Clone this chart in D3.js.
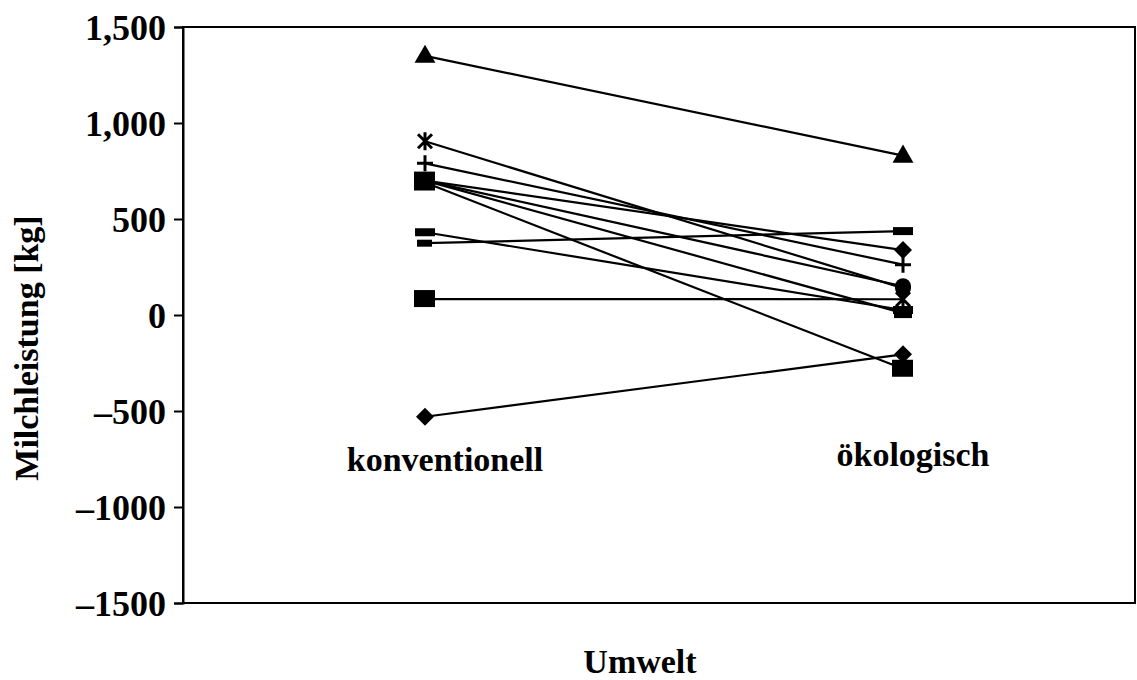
<!DOCTYPE html>
<html>
<head>
<meta charset="utf-8">
<script src="https://cdn.jsdelivr.net/npm/d3@7"></script>
<style>
  body { margin: 0; background: #fff; }
  text { font-family: "Liberation Serif", "Times New Roman", serif; font-weight: bold; fill: #000; }
</style>
</head>
<body>
<div id="chart"></div>
<script>
// Umwelt categories and the milk yield of each group in both environments
const categories = ["konventionell", "ökologisch"];
const shapesKonv = ["triangle", "asterisk", "plus", "circle", "diamond", "square", "square", "bar", "dash", "square", "diamond"];
const shapesOeko = ["triangle", "circle", "plus", "circle", "diamond", "square", "flat", "bar", "bar", "asterisk", "diamond"];
const konventionell = [1350, 905, 790, 700, 700, 690, 700, 431, 374, 83, -530];
const oekologisch   = [830, 140, 262, 150, 338, -280, 10, 26, 437, 82, -205];
const yTicks = [1500, 1000, 500, 0, -500, -1000, -1500];
const yTickLabels = ["1,500", "1,000", "500", "0", "\u2013500", "\u20131000", "\u20131500"];

const W = 1137, H = 680;
const margin = {top: 27, right: 2, bottom: 77, left: 183};
const width = W - margin.left - margin.right,
    height = H - margin.top - margin.bottom;

const svg = d3.select("#chart")
    .append("svg")
    .attr("width", W)
    .attr("height", H);

const g = svg.append("g")
    .attr("transform", `translate(${margin.left},${margin.top})`);

const x = d3.scalePoint()
    .domain(categories)
    .range([242, 720]);

const y = d3.scaleLinear()
    .domain([-1500, 1500])
    .range([height, 0]);

// frame
g.append("rect")
    .attr("width", width)
    .attr("height", height)
    .attr("fill", "none")
    .attr("stroke", "#000")
    .attr("stroke-width", 2);

const yAxis = g.append("g")
    .call(d3.axisLeft(y)
        .tickValues(yTicks)
        .tickFormat((d, i) => yTickLabels[i])
        .tickSize(9)
        .tickPadding(8));
yAxis.select(".domain").attr("stroke-width", 2);
yAxis.selectAll(".tick line").attr("stroke-width", 2);
yAxis.selectAll(".tick text")
    .attr("font-size", 36)
    .attr("font-family", "Liberation Serif, serif")
    .attr("font-weight", "bold")
    .attr("dy", "0.36em");

// paired lines
const pairs = konventionell.map((v, i) => ({
    a: v, b: oekologisch[i], sa: shapesKonv[i], sb: shapesOeko[i]
}));

g.selectAll(".pair")
    .data(pairs)
    .enter()
    .append("line")
    .attr("x1", x(categories[0]))
    .attr("y1", d => y(d.a))
    .attr("x2", x(categories[1]))
    .attr("y2", d => y(d.b))
    .attr("stroke", "#000")
    .attr("stroke-width", 2.2);

function drawMarker(sel, shape) {
    if (shape === "triangle") {
        sel.append("path").attr("d", d3.symbol(d3.symbolTriangle, 190)()).attr("transform", "translate(0,1)");
    } else if (shape === "square") {
        sel.append("rect").attr("x", -11).attr("y", -9).attr("width", 21).attr("height", 17);
    } else if (shape === "flat") {
        sel.append("rect").attr("x", -9).attr("y", -5).attr("width", 18).attr("height", 10);
    } else if (shape === "circle") {
        sel.append("circle").attr("r", 8);
    } else if (shape === "diamond") {
        sel.append("path").attr("d", "M0,-9L9,0L0,9L-9,0Z");
    } else if (shape === "bar") {
        sel.append("rect").attr("x", -10).attr("y", -4).attr("width", 20).attr("height", 8);
    } else if (shape === "dash") {
        sel.append("rect").attr("x", -8).attr("y", -3.5).attr("width", 15).attr("height", 7);
    } else if (shape === "plus") {
        sel.append("path").attr("d", "M-8,0H8M0,-8V8").attr("stroke", "#000").attr("stroke-width", 3).attr("fill", "none");
    } else if (shape === "asterisk") {
        sel.append("path").attr("d", "M-7,-7L7,7M7,-7L-7,7M0,-9V9").attr("stroke", "#000").attr("stroke-width", 3).attr("fill", "none");
    }
}

pairs.forEach(d => {
    drawMarker(g.append("g")
        .attr("transform", `translate(${x(categories[0])},${y(d.a)})`)
        .attr("fill", "#000"), d.sa);
    drawMarker(g.append("g")
        .attr("transform", `translate(${x(categories[1])},${y(d.b)})`)
        .attr("fill", "#000"), d.sb);
});

// category labels inside the plot
g.selectAll(".cat")
    .data(categories)
    .enter()
    .append("text")
    .attr("x", (d, i) => x(d) + (i === 0 ? 20 : 10))
    .attr("y", (d, i) => y(-800) + (i === 0 ? 2 : -3))
    .attr("text-anchor", "middle")
    .attr("font-size", 34)
    .text(d => d);

svg.append("text")
    .attr("x", 640)
    .attr("y", 673)
    .attr("text-anchor", "middle")
    .attr("font-size", 34)
    .text("Umwelt");

svg.append("text")
    .attr("transform", "translate(38,348)rotate(-90)")
    .attr("text-anchor", "middle")
    .attr("font-size", 34)
    .text("Milchleistung [kg]");
</script>
</body>
</html>
